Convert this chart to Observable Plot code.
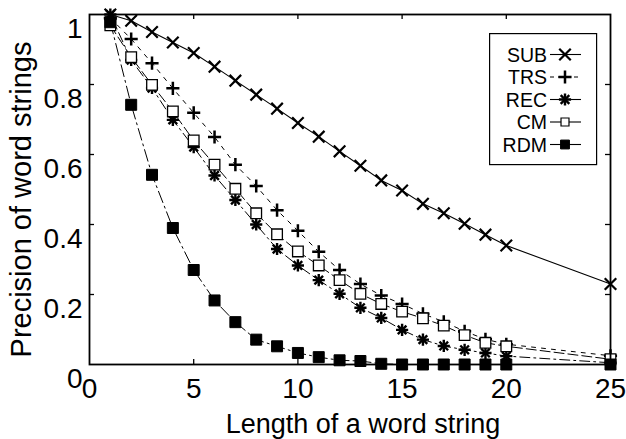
<!DOCTYPE html>
<html><head><meta charset="utf-8">
<script src="https://cdn.jsdelivr.net/npm/d3@7"></script>
<script src="https://cdn.jsdelivr.net/npm/@observablehq/plot@0.6"></script>
<style>
body{margin:0;background:#fff;}
#wrap{position:relative;width:626px;height:439px;font-family:"Liberation Sans",Arial,sans-serif;}
#legend{position:absolute;left:489px;top:33px;}
</style></head><body><div id="wrap"></div>
<script>
// ---- data ----
const lengths = [1,2,3,4,5,6,7,8,9,10,11,12,13,14,15,16,17,18,19,20,25];
const seriesNames = ["SUB","TRS","REC","CM","RDM"];
const sub = [1.0,0.982,0.95,0.92,0.89,0.851,0.811,0.771,0.731,0.69,0.651,0.609,0.568,0.526,0.497,0.459,0.432,0.402,0.371,0.34,0.23];
const trs = [0.99,0.93,0.861,0.789,0.719,0.65,0.571,0.51,0.441,0.382,0.322,0.27,0.23,0.197,0.173,0.145,0.122,0.095,0.072,0.058,0.025];
const rec = [1.0,0.87,0.79,0.699,0.621,0.54,0.47,0.40,0.33,0.283,0.241,0.202,0.162,0.133,0.099,0.071,0.053,0.042,0.033,0.024,0.005];
const cm  = [0.969,0.878,0.799,0.723,0.64,0.571,0.502,0.432,0.372,0.323,0.283,0.241,0.202,0.173,0.151,0.132,0.111,0.084,0.062,0.052,0.015];
const rdm = [0.978,0.742,0.542,0.39,0.27,0.183,0.121,0.071,0.052,0.033,0.021,0.012,0.01,0.002,0,0,0,0,0,0,0];
const xTicks = [0,5,10,15,20,25];
const yTicks = [0,0.2,0.4,0.6,0.8,1];
const yTickLabels = ["0","0.2","0.4","0.6","0.8","1"];
const xLabel = "Length of a word string";
const yLabel = "Precision of word strings";

// ---- build ----
const W = 626, H = 439, mL = 89, mR = 16, mT = 14, mB = 75;
const innerW = W - mL - mR, innerH = H - mT - mB;
const rows = (vals) => lengths.map((x, i) => ({x, y: vals[i]}));
const dSUB = rows(sub), dTRS = rows(trs), dREC = rows(rec), dCM = rows(cm), dRDM = rows(rdm);

const styles = {
  SUB: {dash: null, w: 1.1},
  TRS: {dash: "4,6", w: 1.0},
  REC: {dash: "10,4,2,4", w: 1.0},
  CM:  {dash: "10,4", w: 1.0},
  RDM: {dash: "12,4,2,4", w: 1.0}
};
const tk = 5;
const font = '"Liberation Sans", Arial, sans-serif';
const chart = Plot.plot({
  width: W, height: H,
  marginLeft: mL, marginRight: mR, marginTop: mT, marginBottom: mB,
  x: {domain: [0, 25]},
  y: {domain: [0, 1]},
  style: {fontFamily: font, color: "black", background: "white", overflow: "visible"},
  marks: [
    Plot.axisX(xTicks, {tickSize: 0, tickPadding: 14, fontSize: 28, label: null}),
    Plot.axisY(yTicks, {tickSize: 0, tickPadding: 7, fontSize: 28, dy: 15, label: null,
      tickFormat: d => yTickLabels[yTicks.indexOf(d)]}),
    Plot.ruleX(xTicks.slice(1, -1), {x: d => d, insetTop: innerH - tk, stroke: "black", strokeWidth: 1.3}),
    Plot.ruleX(xTicks.slice(1, -1), {x: d => d, insetBottom: innerH - tk, stroke: "black", strokeWidth: 1.3}),
    Plot.ruleY(yTicks.slice(1, -1), {y: d => d, insetRight: innerW - tk, stroke: "black", strokeWidth: 1.3}),
    Plot.ruleY(yTicks.slice(1, -1), {y: d => d, insetLeft: innerW - tk, stroke: "black", strokeWidth: 1.3}),
    // lines
    Plot.line(dSUB, {x: "x", y: "y", stroke: "black", strokeWidth: styles.SUB.w}),
    Plot.line(dTRS, {x: "x", y: "y", stroke: "black", strokeWidth: styles.TRS.w, strokeDasharray: styles.TRS.dash}),
    Plot.line(dREC, {x: "x", y: "y", stroke: "black", strokeWidth: styles.REC.w, strokeDasharray: styles.REC.dash}),
    Plot.line(dCM, {x: "x", y: "y", stroke: "black", strokeWidth: styles.CM.w, strokeDasharray: styles.CM.dash}),
    Plot.line(dRDM, {x: "x", y: "y", stroke: "black", strokeWidth: styles.RDM.w, strokeDasharray: styles.RDM.dash}),
    // markers
    Plot.dot(dSUB, {x: "x", y: "y", symbol: "times", r: 5.3, fill: "none", stroke: "black", strokeWidth: 2.2}),
    Plot.dot(dTRS, {x: "x", y: "y", symbol: "plus", r: 4.3, fill: "none", stroke: "black", strokeWidth: 2.5}),
    Plot.dot(dREC, {x: "x", y: "y", symbol: "plus", r: 4, fill: "none", stroke: "black", strokeWidth: 2.4}),
    Plot.dot(dREC, {x: "x", y: "y", symbol: "times", r: 4, fill: "none", stroke: "black", strokeWidth: 2.4}),
    Plot.dot(dCM, {x: "x", y: "y", symbol: "square", r: 6, fill: "white", stroke: "black", strokeWidth: 1.3}),
    Plot.dot(dRDM, {x: "x", y: "y", symbol: "square", r: 6.2, fill: "black", stroke: "black", strokeWidth: 1}),
    Plot.frame({stroke: "black", strokeWidth: 1.8}),
    // axis titles
    Plot.text([xLabel], {frameAnchor: "bottom", textAnchor: "middle", lineAnchor: "middle", dx: 13, dy: 60, fontSize: 27, fill: "black"}),
    Plot.text([yLabel], {frameAnchor: "left", textAnchor: "middle", lineAnchor: "middle", rotate: -90, dx: -68, dy: 10, fontSize: 29, fill: "black"})
  ]
});
document.getElementById("wrap").appendChild(chart);

// ---- legend (inset box) ----
const lgW = 107, lgH = 131;
const lg = d3.select("#wrap").append("svg").attr("id", "legend").attr("width", lgW + 2).attr("height", lgH + 2);
lg.append("rect").attr("x", 0.6).attr("y", 0.6).attr("width", lgW).attr("height", lgH)
  .attr("fill", "white").attr("stroke", "black").attr("stroke-width", 1.2);
const symDefs = {
  SUB: [{s: d3.symbolTimes, r: 5.3, fill: "none", sw: 2.2}],
  TRS: [{s: d3.symbolPlus, r: 4.3, fill: "none", sw: 2.5}],
  REC: [{s: d3.symbolPlus, r: 4, fill: "none", sw: 2.4}, {s: d3.symbolTimes, r: 4, fill: "none", sw: 2.4}],
  CM:  [{s: d3.symbolSquare, r: 4.5, fill: "white", sw: 1.2}],
  RDM: [{s: d3.symbolSquare, r: 5, fill: "black", sw: 1}]
};
seriesNames.forEach((name, i) => {
  const cy = 21.5 + i * 22.5;
  lg.append("text").attr("x", 58).attr("y", cy).attr("text-anchor", "end")
    .attr("dominant-baseline", "central").attr("font-size", 19.5)
    .attr("font-family", font).attr("fill", "black").text(name);
  lg.append("line").attr("x1", 61).attr("x2", 92).attr("y1", cy).attr("y2", cy)
    .attr("stroke", "black").attr("stroke-width", 1.1)
    .attr("stroke-dasharray", name === "TRS" ? "4,4" : null);
  symDefs[name].forEach(sd => {
    lg.append("path").attr("transform", `translate(76,${cy})`)
      .attr("d", d3.symbol(sd.s, Math.PI * sd.r * sd.r)())
      .attr("fill", sd.fill).attr("stroke", "black").attr("stroke-width", sd.sw);
  });
});
</script>
</body></html>
